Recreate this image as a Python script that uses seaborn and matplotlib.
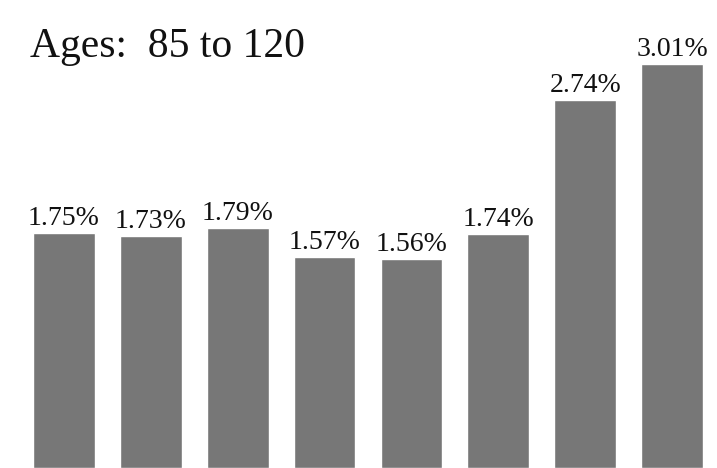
import matplotlib
matplotlib.use("Agg")
import matplotlib.pyplot as plt
import seaborn as sns
import pandas as pd

# values (percent)
groups = ["g1", "g2", "g3", "g4", "g5", "g6", "g7", "g8"]
shares = [1.75, 1.73, 1.79, 1.57, 1.56, 1.74, 2.74, 3.01]
title = "Ages:  85 to 120"

BAR = "#777777"

sns.set_style("white")
plt.rcParams["font.family"] = "serif"
plt.rcParams["font.serif"] = ["Liberation Serif", "Times New Roman", "Times", "DejaVu Serif"]

df = pd.DataFrame({"group": groups, "share": shares})

fig = plt.figure(figsize=(7.17, 4.68), dpi=100)
ax = fig.add_axes([0, 0, 1, 1])
sns.barplot(data=df, x="group", y="share", color=BAR, width=0.71,
            saturation=1, ax=ax)

for i, v in enumerate(shares):
    ax.annotate(f"{v:.2f}%", (i, v), xytext=(0, 8), textcoords="offset pixels",
                ha="center", va="baseline", fontsize=20, color="#111111")

ax.set_xlim(-0.737, 7.518)
ax.set_ylim(0, 3.487)
ax.axis("off")

fig.text(30 / 717, 1 - 57 / 468, title, fontsize=30, color="#111111",
         ha="left", va="baseline")

fig.savefig("out.png", dpi=100, facecolor="white")
